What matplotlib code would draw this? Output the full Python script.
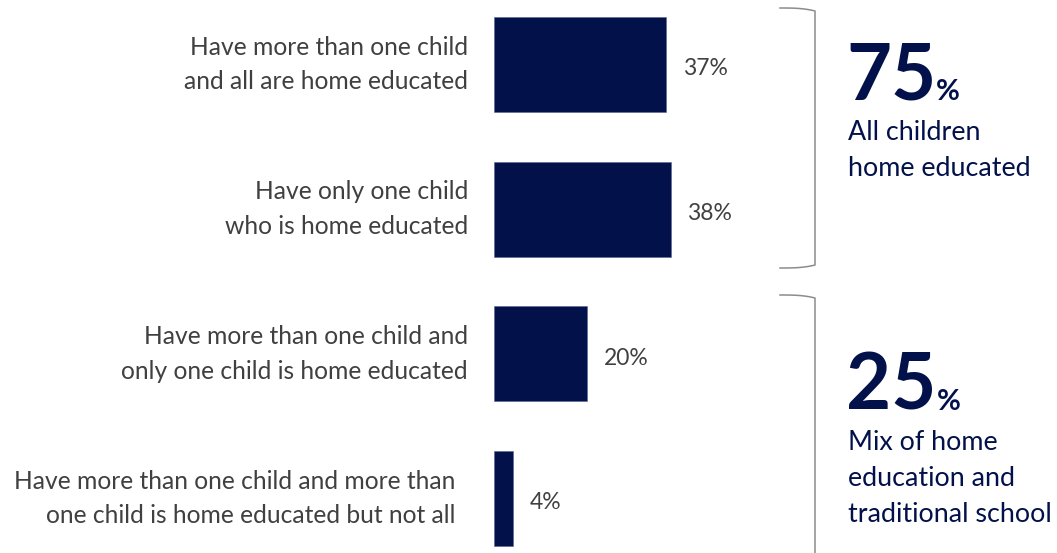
import numpy as np
import matplotlib.pyplot as plt
from matplotlib.lines import Line2D

plt.rcParams['font.family'] = ['Lato', 'DejaVu Sans']

categories = ['Have more than one child\nand all are home educated',
              'Have only one child\nwho is home educated',
              'Have more than one child and\nonly one child is home educated',
              'Have more than one child and more than\none child is home educated but not all']
values = [37, 38, 20, 4]
value_labels = ['37%', '38%', '20%', '4%']
group_totals = ['75', '25']
group_texts = ['All children\nhome educated', 'Mix of home\neducation and\ntraditional school']

navy = '#02114a'
grey = '#404040'

W, H = 1057, 553
fig = plt.figure(figsize=(W / 100, H / 100), dpi=100)

# axes: x=0 at pixel 494, 4.65 px per percent
ppp = 4.65
ax = fig.add_axes([494 / W, 0, 50 * ppp / W, 1])
ax.set_xlim(0, 50)
step = 144.67
ax.set_ylim((H - 64.5) / step, -64.5 / step)
ax.axis('off')

ypos = np.arange(len(values))
ax.barh(ypos, values, height=0.655, color=navy, edgecolor='#5a6590', linewidth=0.4)

for y, v, lab in zip(ypos, values, value_labels):
    ax.text(v + 3.6, y + 0.03, lab, va='center', ha='left', fontsize=16.5, color=grey)

def px(x, y):
    return x / W, 1 - y / H

label_x = [468, 468, 468, 455]
for y, lab, lx in zip(ypos, categories, label_x):
    ax.text(-(494 - lx) / ppp, y, lab, va='center', ha='right', fontsize=17.7,
            color=grey, linespacing=1.62)

# right-hand summary
renderer = fig.canvas.get_renderer()
for total, txt, base, txt_base in zip(group_totals, group_texts, [100, 410], [176, 522]):
    t = fig.text(*px(846, base), total, fontsize=56, fontweight='bold', color=navy,
                 va='baseline', ha='left')
    bb = t.get_window_extent(renderer)
    fig.text(bb.x1 / W, 1 - base / H, '%', fontsize=21, fontweight='bold',
             color=navy, va='baseline', ha='left')
    fig.text(*px(848, txt_base), txt, fontsize=19.4, color=navy, va='baseline',
             ha='left', linespacing=1.54)

# brackets
def bracket(y0, y1):
    t = np.linspace(0, 1, 20)
    top_x = 780 + 35 * t
    top_y = y0 + 3 * t ** 3
    xs = list(top_x) + [815, 815] + list(top_x[::-1])
    ys = list(top_y) + [y0 + 6, y1 - 6] + list(y1 - 3 * t[::-1] ** 3)
    xs = np.array(xs) / W
    ys = 1 - np.array(ys) / H
    fig.add_artist(Line2D(xs, ys, color='#8c8c8c', lw=1.1))

bracket(8, 268)
bracket(295, 600)

fig.savefig('out.png', dpi=100)
